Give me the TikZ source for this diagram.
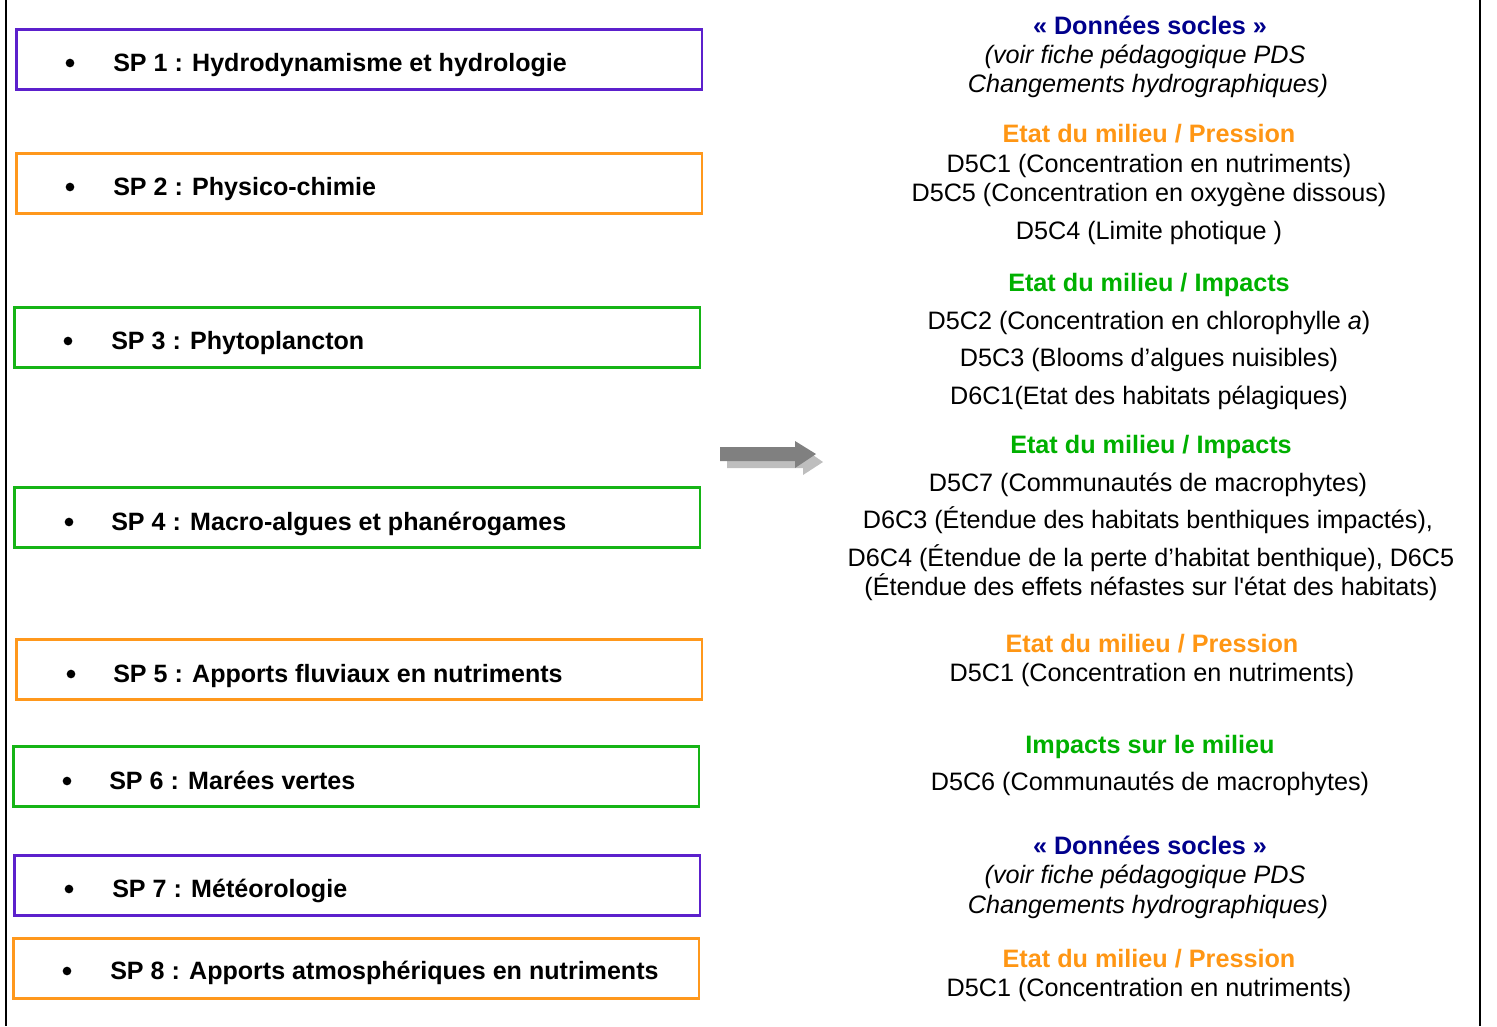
\documentclass[tikz,border=0pt]{standalone}
\usepackage{fontspec}
\setmainfont{Liberation Sans}
\definecolor{spPurple}{RGB}{92,32,204}
\definecolor{spOrange}{RGB}{255,152,28}
\definecolor{spGreen}{RGB}{22,180,22}
\definecolor{tNavy}{RGB}{0,0,140}
\definecolor{tOrange}{RGB}{255,150,20}
\definecolor{tGreen}{RGB}{0,176,0}
\definecolor{arrDark}{RGB}{128,128,128}
\definecolor{arrLight}{RGB}{190,190,190}
\begin{document}
\begin{tikzpicture}[x=0.75pt,y=-0.75pt,
  spbox/.style={draw=#1,line width=2pt,rectangle,inner sep=0pt,anchor=north west,minimum width=685.5*0.75pt,minimum height=60*0.75pt},
  sptext/.style={anchor=base west,inner sep=0pt,font=\fontsize{18.8}{22}\selectfont\bfseries},
  bul/.style={circle,fill=black,inner sep=0pt,minimum size=6.5pt},
  rtext/.style={anchor=base,inner sep=0pt,font=\fontsize{18.9}{22}\selectfont},
  rhead/.style={anchor=base,inner sep=0pt,font=\fontsize{18.9}{22}\selectfont\bfseries,text=#1},
  ritalic/.style={anchor=base,inner sep=0pt,font=\fontsize{18.9}{22}\selectfont\itshape}]
\useasboundingbox (0,0) rectangle (1497,1026);
% frame lines
\draw[line width=1.6pt] (6,0) -- (6,1026);
\draw[line width=1.6pt] (1480,0) -- (1480,1026);
% left boxes
\node[spbox=spPurple] (b1) at (15,28) {};
\node[spbox=spOrange] (b2) at (15,152) {};
\node[spbox=spGreen] (b3) at (13,306) {};
\node[spbox=spGreen] (b4) at (13,486) {};
\node[spbox=spOrange] (b5) at (15,638) {};
\node[spbox=spGreen] (b6) at (12,745) {};
\node[spbox=spPurple] (b7) at (13,854) {};
\node[spbox=spOrange] (b8) at (12,937) {};
% bullets and texts
\node[bul] (u1) at (70,63) {};
\node[sptext] (s1) at (113,71) {SP 1 : Hydrodynamisme et hydrologie};
\node[bul] (u2) at (70,187) {};
\node[sptext] (s2) at (113,195) {SP 2 : Physico-chimie};
\node[bul] (u3) at (68,341) {};
\node[sptext] (s3) at (111,349) {SP 3 : Phytoplancton};
\node[bul] (u4) at (69,522) {};
\node[sptext] (s4) at (111,530) {SP 4 : Macro-algues et phanérogames};
\node[bul] (u5) at (71,674) {};
\node[sptext] (s5) at (113,682) {SP 5 : Apports fluviaux en nutriments};
\node[bul] (u6) at (67,781) {};
\node[sptext] (s6) at (109,789) {SP 6 : Marées vertes};
\node[bul] (u7) at (69,889) {};
\node[sptext] (s7) at (112,897) {SP 7 : Météorologie};
\node[bul] (u8) at (67,971) {};
\node[sptext] (s8) at (110,979) {SP 8 : Apports atmosphériques en nutriments};
% arrow
\fill[arrLight] (727,455) -- (803,455) -- (803,448) -- (823,462) -- (803,475) -- (803,468) -- (727,468) -- cycle;
\fill[arrDark] (720,447) -- (795,447) -- (795,441) -- (816,454) -- (795,468) -- (795,461) -- (720,461) -- cycle;
% right column
\node[rhead=tNavy] (r1) at (1150,34) {« Données socles »};
\node[ritalic] (r2) at (1145,63) {(voir fiche pédagogique PDS};
\node[ritalic] (r3) at (1148,92) {Changements hydrographiques)};
\node[rhead=tOrange] (r4) at (1149,142) {Etat du milieu / Pression};
\node[rtext] (r5) at (1149,172) {D5C1 (Concentration en nutriments)};
\node[rtext] (r6) at (1149,201) {D5C5 (Concentration en oxygène dissous)};
\node[rtext] (r7) at (1149,239) {D5C4 (Limite photique )};
\node[rhead=tGreen] (r8) at (1149,291) {Etat du milieu / Impacts};
\node[rtext] (r9) at (1149,329) {D5C2 (Concentration en chlorophylle \textit{a})};
\node[rtext] (r10) at (1149,366) {D5C3 (Blooms d’algues nuisibles)};
\node[rtext] (r11) at (1149,404) {D6C1(Etat des habitats pélagiques)};
\node[rhead=tGreen] (r12) at (1151,453) {Etat du milieu / Impacts};
\node[rtext] (r13) at (1148,491) {D5C7 (Communautés de macrophytes)};
\node[rtext] (r14) at (1148,528) {D6C3 (Étendue des habitats benthiques impactés),};
\node[rtext] (r15) at (1151,566) {D6C4 (Étendue de la perte d’habitat benthique), D6C5};
\node[rtext] (r16) at (1151,595) {(Étendue des effets néfastes sur l\textquotesingle état des habitats)};
\node[rhead=tOrange] (r17) at (1152,652) {Etat du milieu / Pression};
\node[rtext] (r18) at (1152,681) {D5C1 (Concentration en nutriments)};
\node[rhead=tGreen] (r19) at (1150,753) {Impacts sur le milieu};
\node[rtext] (r20) at (1150,790) {D5C6 (Communautés de macrophytes)};
\node[rhead=tNavy] (r21) at (1150,854) {« Données socles »};
\node[ritalic] (r22) at (1145,883) {(voir fiche pédagogique PDS};
\node[ritalic] (r23) at (1148,913) {Changements hydrographiques)};
\node[rhead=tOrange] (r24) at (1149,967) {Etat du milieu / Pression};
\node[rtext] (r25) at (1149,996) {D5C1 (Concentration en nutriments)};
\end{tikzpicture}
\end{document}
